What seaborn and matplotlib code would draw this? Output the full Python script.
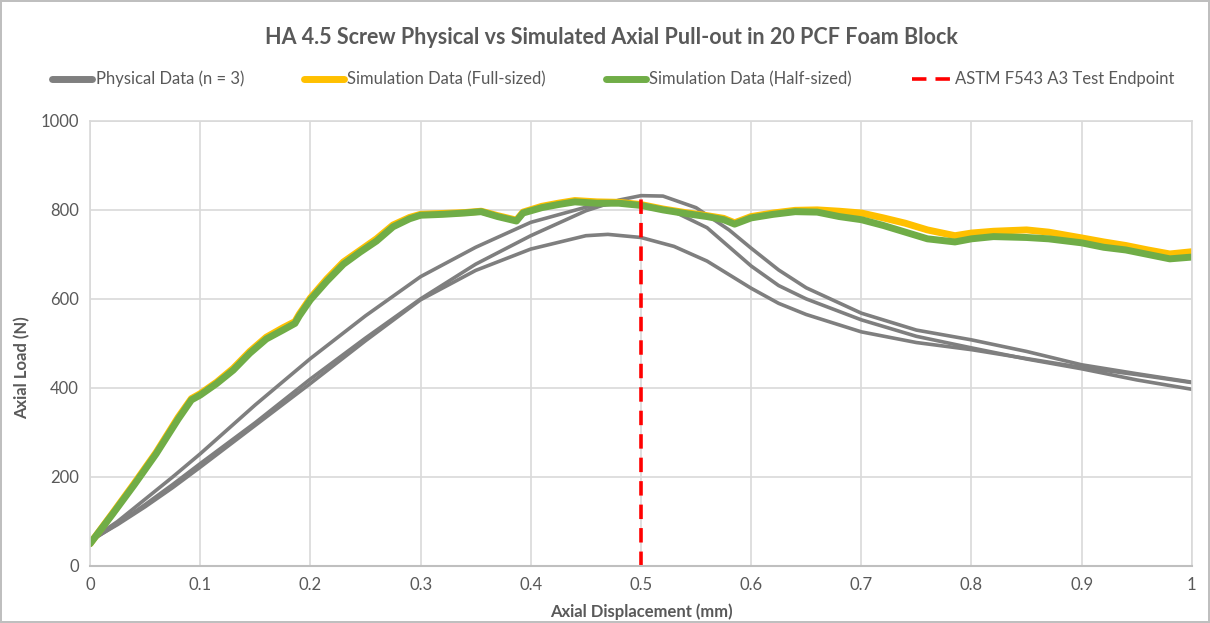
import matplotlib.pyplot as plt
from matplotlib.lines import Line2D
import pandas as pd
import seaborn as sns

# Physical pull-out tests (three specimens)
PHYS1_X = [0, 0.025, 0.05, 0.075, 0.1, 0.15, 0.2, 0.25, 0.3, 0.35, 0.4, 0.45, 0.48, 0.5,
           0.52, 0.55, 0.58, 0.6, 0.625, 0.65, 0.7, 0.75, 0.8, 0.85, 0.9, 0.95, 1.0]
PHYS1_Y = [55, 95, 138, 183, 230, 322, 420, 512, 600, 678, 742, 798, 822, 832,
           831, 805, 755, 714, 665, 625, 568, 530, 508, 482, 452, 432, 413]

PHYS2_X = [0, 0.025, 0.05, 0.075, 0.1, 0.15, 0.2, 0.25, 0.3, 0.35, 0.4, 0.45, 0.48, 0.5,
           0.53, 0.56, 0.6, 0.625, 0.65, 0.7, 0.75, 0.8, 0.85, 0.9, 0.95, 1.0]
PHYS2_Y = [58, 100, 150, 200, 252, 362, 466, 562, 650, 716, 772, 806, 815, 813,
           796, 760, 674, 630, 600, 553, 516, 490, 465, 443, 418, 397]

PHYS3_X = [0, 0.025, 0.05, 0.075, 0.1, 0.15, 0.2, 0.25, 0.3, 0.35, 0.4, 0.45, 0.47, 0.5,
           0.53, 0.56, 0.6, 0.625, 0.65, 0.7, 0.75, 0.8, 0.85, 0.9, 0.95, 1.0]
PHYS3_Y = [57, 93, 133, 176, 222, 316, 410, 506, 598, 664, 712, 742, 745, 738,
           718, 685, 624, 590, 565, 526, 502, 486, 466, 446, 430, 412]

# Simulation (half-sized model)
HALF_X = [0, 0.02, 0.04, 0.06, 0.08, 0.092, 0.1, 0.115, 0.13, 0.145, 0.16, 0.175, 0.186,
          0.19, 0.2, 0.215, 0.23, 0.245, 0.26, 0.275, 0.29, 0.3, 0.32, 0.34, 0.355, 0.37,
          0.387, 0.393, 0.41, 0.425, 0.44, 0.46, 0.48, 0.5, 0.52, 0.54, 0.56, 0.575, 0.585,
          0.6, 0.62, 0.64, 0.66, 0.68, 0.7, 0.72, 0.74, 0.76, 0.785, 0.8, 0.82, 0.85, 0.87,
          0.9, 0.92, 0.94, 0.96, 0.98, 1.0]
HALF_Y = [50, 115, 182, 252, 330, 373, 384, 410, 440, 478, 510, 530, 545,
          562, 598, 640, 678, 705, 730, 762, 780, 788, 790, 793, 796, 785,
          775, 793, 805, 812, 818, 815, 815, 810, 800, 792, 785, 778, 768,
          782, 790, 796, 795, 785, 778, 765, 750, 735, 728, 735, 740, 738, 735,
          726, 716, 710, 700, 690, 694]

# Simulation (full-sized model)
FULL_X = [0, 0.02, 0.04, 0.06, 0.08, 0.092, 0.1, 0.115, 0.13, 0.145, 0.16, 0.175, 0.186,
          0.19, 0.2, 0.215, 0.23, 0.245, 0.26, 0.275, 0.29, 0.3, 0.32, 0.34, 0.355, 0.37,
          0.387, 0.393, 0.41, 0.425, 0.44, 0.46, 0.48, 0.5, 0.52, 0.54, 0.56, 0.575, 0.585,
          0.6, 0.62, 0.64, 0.66, 0.68, 0.7, 0.72, 0.74, 0.76, 0.785, 0.8, 0.82, 0.85, 0.87,
          0.9, 0.92, 0.94, 0.96, 0.98, 1.0]
FULL_Y = [50, 117, 185, 255, 334, 376, 387, 413, 444, 482, 514, 535, 549,
          566, 602, 645, 683, 709, 735, 766, 783, 790, 792, 794, 797, 787,
          777, 795, 808, 815, 821, 818, 817, 812, 802, 794, 787, 781, 771,
          785, 793, 799, 800, 797, 793, 782, 770, 755, 742, 748, 752, 755, 750,
          737, 728, 720, 710, 701, 706]

ENDPOINT_X = [0.5, 0.5]
ENDPOINT_Y = [0, 832]

GRAY = "#7F7F7F"
YELLOW = "#FFC000"
GREEN = "#70AD47"
RED = "#FF0000"
TEXT = "#595959"
GRID = "#D9D9D9"

sns.set_theme(style="whitegrid")
plt.rcParams["font.family"] = ["Lato", "DejaVu Sans"]

fig = plt.figure(figsize=(12.1, 6.23), dpi=100)
fig.patch.set_edgecolor("#BFBFBF")
fig.patch.set_linewidth(1.5)
ax = fig.add_axes([0.0744, 0.0915, 0.9106, 0.7145])

for xs, ys in [(PHYS1_X, PHYS1_Y), (PHYS2_X, PHYS2_Y), (PHYS3_X, PHYS3_Y)]:
    df = pd.DataFrame({"x": xs, "y": ys})
    sns.lineplot(data=df, x="x", y="y", ax=ax, color=GRAY, linewidth=2.6,
                 sort=False, estimator=None)

full_df = pd.DataFrame({"x": FULL_X, "y": FULL_Y})
sns.lineplot(data=full_df, x="x", y="y", ax=ax, color=YELLOW, linewidth=5,
             sort=False, estimator=None)
half_df = pd.DataFrame({"x": HALF_X, "y": HALF_Y})
sns.lineplot(data=half_df, x="x", y="y", ax=ax, color=GREEN, linewidth=5,
             sort=False, estimator=None)

ax.plot(ENDPOINT_X, ENDPOINT_Y, color=RED, linewidth=2.6, linestyle=(0, (4, 2.5)))

ax.set_xlim(0, 1)
ax.set_ylim(0, 1000)
ax.set_xticks([0, 0.1, 0.2, 0.3, 0.4, 0.5, 0.6, 0.7, 0.8, 0.9, 1])
ax.set_xticklabels(["0", "0.1", "0.2", "0.3", "0.4", "0.5", "0.6", "0.7", "0.8", "0.9", "1"])
ax.set_yticks([0, 200, 400, 600, 800, 1000])
ax.tick_params(axis="both", colors=TEXT, labelsize=12, length=0, pad=8)
ax.grid(True, color=GRID, linewidth=1.2)
for side in ["left", "right", "top"]:
    ax.spines[side].set_color(GRID)
    ax.spines[side].set_linewidth(1.2)
ax.spines["bottom"].set_color("#BFBFBF")
ax.spines["bottom"].set_linewidth(1.5)

ax.set_xlabel("Axial Displacement (mm)", color=TEXT, fontsize=12, fontweight="bold")
ax.set_ylabel("Axial Load (N)", color=TEXT, fontsize=12, fontweight="bold")
ax.xaxis.set_label_coords(0.5, -0.083)
ax.yaxis.set_label_coords(-0.054, 0.445)

fig.suptitle("HA 4.5 Screw Physical vs Simulated Axial Pull-out in 20 PCF Foam Block",
             x=0.505, y=0.94, va="center", color=TEXT, fontsize=15.5, fontweight="bold")

handles = [
    Line2D([], [], color=GRAY, linewidth=5, solid_capstyle="round"),
    Line2D([], [], color=YELLOW, linewidth=5, solid_capstyle="round"),
    Line2D([], [], color=GREEN, linewidth=5, solid_capstyle="round"),
    Line2D([], [], color=RED, linewidth=2.6, linestyle=(0, (4, 2.5))),
]
labels = ["Physical Data (n = 3)", "Simulation Data (Full-sized)",
          "Simulation Data (Half-sized)", "ASTM F543 A3 Test Endpoint"]
leg = fig.legend(handles, labels, loc="center", bbox_to_anchor=(0.507, 0.873), ncol=4,
                 frameon=False, fontsize=12, handlelength=2.4, handletextpad=0.2,
                 columnspacing=3.6, labelcolor=TEXT)

fig.savefig("out.png", dpi=100)
